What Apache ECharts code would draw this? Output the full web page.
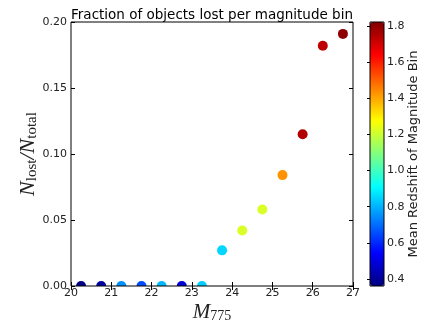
<!DOCTYPE html>
<html>
<head>
<meta charset="utf-8">
<script src="https://cdn.jsdelivr.net/npm/echarts@6/dist/echarts.min.js"></script>
<style>
  html, body { margin: 0; padding: 0; background: #fff; }
  #chart { width: 424px; height: 324px; }
</style>
</head>
<body>
<div id="chart"></div>
<script>
// magnitude bin centres, fraction lost, mean redshift per bin
const magnitudes = [20.25, 20.75, 21.25, 21.75, 22.25, 22.75, 23.25, 23.75, 24.25, 24.75, 25.25, 25.75, 26.25, 26.75];
const fractionLost = [0, 0, 0, 0, 0, 0, 0, 0.027, 0.042, 0.058, 0.084, 0.115, 0.182, 0.191];
const meanRedshift = [0.37, 0.41, 0.75, 0.65, 0.81, 0.49, 0.84, 0.85, 1.22, 1.22, 1.43, 1.75, 1.73, 1.8];
const xTicks = [20, 21, 22, 23, 24, 25, 26, 27];
const yTicks = [0, 0.05, 0.1, 0.15, 0.2];
const cbarTicks = [0.4, 0.6, 0.8, 1.0, 1.2, 1.4, 1.6, 1.8];
const cbarMin = 0.361;
const cbarMax = 1.822;

// matplotlib "jet"
const jet = ['#00007f', '#0000ff', '#007fff', '#00ffff', '#7fff7f', '#ffff00', '#ff7f00', '#ff0000', '#7f0000'];

const font = 'DejaVu Sans';
const ink = '#000';
const labelColor = '#222';

const points = magnitudes.map((m, i) => [m, fractionLost[i], meanRedshift[i]]);

const inTick = (len) => ({ show: true, inside: true, length: len, lineStyle: { color: ink, width: 1 } });

// circles clipped to the axes box, like matplotlib (points on y=0 show half)
function renderDot(params, api) {
  const p = api.coord([api.value(0), api.value(1)]);
  const cs = params.coordSys;
  return {
    type: 'circle',
    shape: { cx: p[0], cy: p[1], r: 5 },
    style: { fill: api.visual('color') },
    clipPath: { type: 'rect', shape: { x: cs.x, y: cs.y, width: cs.width, height: cs.height } },
  };
}

const chart = echarts.init(document.getElementById('chart'), null, { renderer: 'canvas' });
chart.setOption({
  animation: false,
  backgroundColor: '#fff',
  title: {
    text: 'Fraction of objects lost per magnitude bin',
    left: 'center',
    top: 3,
    textStyle: { fontFamily: font, fontSize: 13.5, fontWeight: 'normal', color: ink },
  },
  grid: [
    { left: 71, right: 71, top: 22, bottom: 38, show: true, borderColor: ink, borderWidth: 1, z: 5, outerBoundsMode: 'none' },
    { left: 370, width: 14, top: 22, height: 264, show: true, borderColor: ink, borderWidth: 1, z: 5, outerBoundsMode: 'none' },
  ],
  xAxis: [
    {
      type: 'value', gridIndex: 0, position: 'bottom', min: 20, max: 27, interval: 1,
      axisLine: { show: false }, axisTick: inTick(4), splitLine: { show: false },
      axisLabel: {
        fontFamily: font, fontSize: 11, color: labelColor, margin: 2,
        customValues: xTicks,
      },
      name: '{i|M}{s|775}',
      nameLocation: 'middle',
      nameGap: 15,
      nameMoveOverlap: false,
      nameTextStyle: {
        rich: {
          i: { fontFamily: 'Liberation Serif', fontStyle: 'italic', fontSize: 21, color: labelColor, lineHeight: 22 },
          s: { fontFamily: 'Liberation Serif', fontSize: 14, color: labelColor, verticalAlign: 'bottom', lineHeight: 14 },
        },
      },
    },
    {
      type: 'value', gridIndex: 0, position: 'top', min: 20, max: 27, interval: 1,
      axisLine: { show: false }, axisTick: inTick(4), axisLabel: { show: false }, splitLine: { show: false },
    },
    { type: 'value', gridIndex: 1, min: 0, max: 1, show: false },
  ],
  yAxis: [
    {
      type: 'value', gridIndex: 0, position: 'left', min: 0, max: 0.2, interval: 0.05,
      axisLine: { show: false }, axisTick: inTick(4), splitLine: { show: false },
      axisLabel: {
        fontFamily: font, fontSize: 11, color: labelColor, margin: 4,
        customValues: yTicks, formatter: (v) => v.toFixed(2),
      },
      name: '{i|N}{s|lost}{i|/N}{s|total}',
      nameLocation: 'middle',
      nameRotate: 90,
      nameGap: 31,
      nameMoveOverlap: false,
      nameTextStyle: {
        rich: {
          i: { fontFamily: 'Liberation Serif', fontStyle: 'italic', fontSize: 22, color: labelColor, lineHeight: 24 },
          s: { fontFamily: 'Liberation Serif', fontSize: 15, color: labelColor, verticalAlign: 'bottom', lineHeight: 15 },
        },
      },
    },
    {
      type: 'value', gridIndex: 0, position: 'right', min: 0, max: 0.2, interval: 0.05,
      axisLine: { show: false }, axisTick: inTick(4), axisLabel: { show: false }, splitLine: { show: false },
    },
    {
      type: 'value', gridIndex: 1, position: 'right', min: cbarMin, max: cbarMax,
      axisLine: { show: false }, splitLine: { show: false },
      axisTick: { show: true, inside: true, length: 3, lineStyle: { color: ink }, customValues: cbarTicks },
      axisLabel: {
        fontFamily: font, fontSize: 11, color: labelColor, margin: 3,
        customValues: cbarTicks, formatter: (v) => v.toFixed(1),
      },
      name: 'Mean Redshift of Magnitude Bin',
      nameLocation: 'middle',
      nameRotate: 90,
      nameGap: 23,
      nameMoveOverlap: false,
      nameTextStyle: { fontFamily: font, fontSize: 13, color: labelColor },
      z: 6,
    },
  ],
  visualMap: {
    type: 'continuous',
    seriesIndex: 0,
    dimension: 2,
    min: cbarMin,
    max: cbarMax,
    orient: 'vertical',
    left: 370,
    top: 22,
    itemWidth: 14,
    itemHeight: 264,
    padding: 0,
    calculable: false,
    text: null,
    showLabel: false,
    inRange: { color: jet },
    z: 1,
  },
  series: [
    {
      type: 'custom',
      xAxisIndex: 0,
      yAxisIndex: 0,
      data: points,
      encode: { x: 0, y: 1 },
      renderItem: renderDot,
      clip: true,
      z: 3,
    },
  ],
});
</script>
</body>
</html>
